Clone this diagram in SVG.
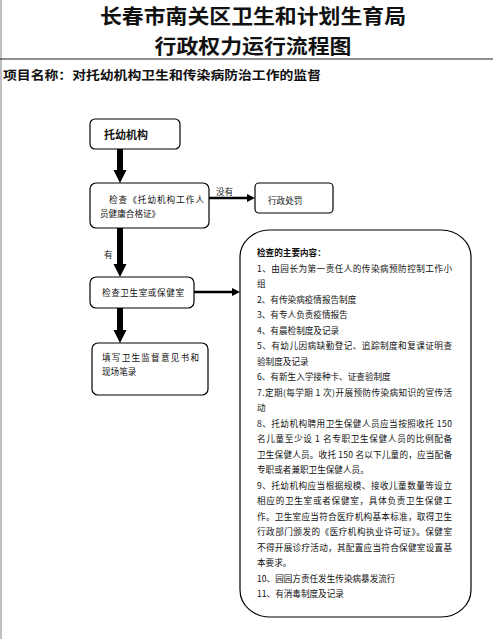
<svg xmlns="http://www.w3.org/2000/svg" width="493" height="639" viewBox="0 0 493 639">
<style>
  text { font-family: "Noto Sans CJK SC", "Noto Sans", sans-serif; fill: #111; }
  .title { font-size: 20px; font-weight: bold; text-anchor: middle; }
  .sub { font-size: 12.5px; font-weight: bold; }
  .t { font-size: 8.6px; }
  .box { fill: #fff; stroke: #000; stroke-width: 1.2; }
  .thick { stroke: #000; stroke-width: 6; fill: none; }
  .thin { stroke: #000; stroke-width: 2.5; fill: none; }
</style>
<rect x="0" y="0" width="493" height="639" fill="#fff"/>
<line x1="1" y1="0" x2="1" y2="639" stroke="#aaa" stroke-width="1.5"/>

<text class="title" x="253" y="24" textLength="306" lengthAdjust="spacingAndGlyphs">长春市南关区卫生和计划生育局</text>
<text class="title" x="253" y="54" textLength="197" lengthAdjust="spacingAndGlyphs">行政权力运行流程图</text>
<line x1="0" y1="59" x2="493" y2="59" stroke="#222" stroke-width="1.2"/>
<text class="sub" x="3" y="80" textLength="318" lengthAdjust="spacingAndGlyphs">项目名称：对托幼机构卫生和传染病防治工作的监督</text>

<g id="connectors">
  <line class="thick" x1="120" y1="149" x2="120" y2="172"/>
  <path d="M113.5,170 L126.5,170 L120,183 Z" fill="#000"/>
  <line class="thick" x1="120" y1="228" x2="120" y2="266"/>
  <path d="M113.5,264 L126.5,264 L120,277 Z" fill="#000"/>
  <line class="thick" x1="120" y1="308" x2="120" y2="332"/>
  <path d="M113.5,330 L126.5,330 L120,343 Z" fill="#000"/>
  <line class="thin" x1="209" y1="198" x2="248" y2="198"/>
  <path d="M247,194 L255,198 L247,202 Z" fill="#000"/>
  <line class="thin" x1="194" y1="292" x2="233" y2="292"/>
  <path d="M232,288 L240,292 L232,296 Z" fill="#000"/>
  <text class="t" x="216" y="195">没有</text>
  <text class="t" x="104" y="258">有</text>
</g>

<g id="node-tuoyou">
  <rect class="box" x="90" y="119" width="90" height="30" rx="5"/>
  <text x="104" y="139" font-size="11" font-weight="bold">托幼机构</text>
</g>

<g id="node-check-cert">
  <rect class="box" x="90" y="183" width="119" height="45" rx="6"/>
  <text class="t" x="109" y="203" textLength="95" lengthAdjust="spacing">检查《托幼机构工作人</text>
  <text class="t" x="100" y="217">员健康合格证》</text>
</g>

<g id="node-punish">
  <rect class="box" x="255" y="183" width="78" height="30" rx="4"/>
  <text class="t" x="268" y="204" font-size="9.5">行政处罚</text>
</g>

<g id="node-check-room">
  <rect class="box" x="90" y="277" width="104" height="31" rx="6"/>
  <text class="t" x="102" y="296" textLength="82" lengthAdjust="spacing">检查卫生室或保健室</text>
</g>

<g id="node-record">
  <rect class="box" x="92" y="343" width="116" height="52" rx="6"/>
  <text class="t" x="102" y="361" textLength="97" lengthAdjust="spacing">填写卫生监督意见书和</text>
  <text class="t" x="102" y="375">现场笔录</text>
</g>

<g id="node-content">
  <rect class="box" x="240" y="230" width="231" height="387" rx="30" ry="27"/>
  <text class="t" x="257" y="256" font-weight="bold">检查的主要内容：</text>
  <text class="t" x="257" y="271.5" textLength="195" lengthAdjust="spacing">1、由园长为第一责任人的传染病预防控制工作小</text>
  <text class="t" x="257" y="287">组</text>
  <text class="t" x="257" y="302.5">2、有传染病疫情报告制度</text>
  <text class="t" x="257" y="318">3、有专人负责疫情报告</text>
  <text class="t" x="257" y="333.5">4、有晨检制度及记录</text>
  <text class="t" x="257" y="349" textLength="195" lengthAdjust="spacing">5、有幼儿因病缺勤登记、追踪制度和复课证明查</text>
  <text class="t" x="257" y="364.5">验制度及记录</text>
  <text class="t" x="257" y="380">6、有新生入学接种卡、证查验制度</text>
  <text class="t" x="257" y="395.5" textLength="195" lengthAdjust="spacing">7.定期(每学期 1 次)开展预防传染病知识的宣传活</text>
  <text class="t" x="257" y="411">动</text>
  <text class="t" x="257" y="426.5" textLength="195" lengthAdjust="spacing">8、托幼机构聘用卫生保健人员应当按照收托 150</text>
  <text class="t" x="257" y="442" textLength="195" lengthAdjust="spacing">名儿童至少设 1 名专职卫生保健人员的比例配备</text>
  <text class="t" x="257" y="457.5" textLength="195" lengthAdjust="spacing">卫生保健人员。收托 150 名以下儿童的，应当配备</text>
  <text class="t" x="257" y="473">专职或者兼职卫生保健人员。</text>
  <text class="t" x="257" y="488.5" textLength="195" lengthAdjust="spacing">9、托幼机构应当根据规模、接收儿童数量等设立</text>
  <text class="t" x="257" y="504" textLength="195" lengthAdjust="spacing">相应的卫生室或者保健室，具体负责卫生保健工</text>
  <text class="t" x="257" y="519.5" textLength="195" lengthAdjust="spacing">作。卫生室应当符合医疗机构基本标准，取得卫生</text>
  <text class="t" x="257" y="535" textLength="195" lengthAdjust="spacing">行政部门颁发的《医疗机构执业许可证》。保健室</text>
  <text class="t" x="257" y="550.5" textLength="195" lengthAdjust="spacing">不得开展诊疗活动，其配置应当符合保健室设置基</text>
  <text class="t" x="257" y="566">本要求。</text>
  <text class="t" x="257" y="581.5">10、园园方责任发生传染病暴发流行</text>
  <text class="t" x="257" y="597">11、有消毒制度及记录</text>
</g>
</svg>
